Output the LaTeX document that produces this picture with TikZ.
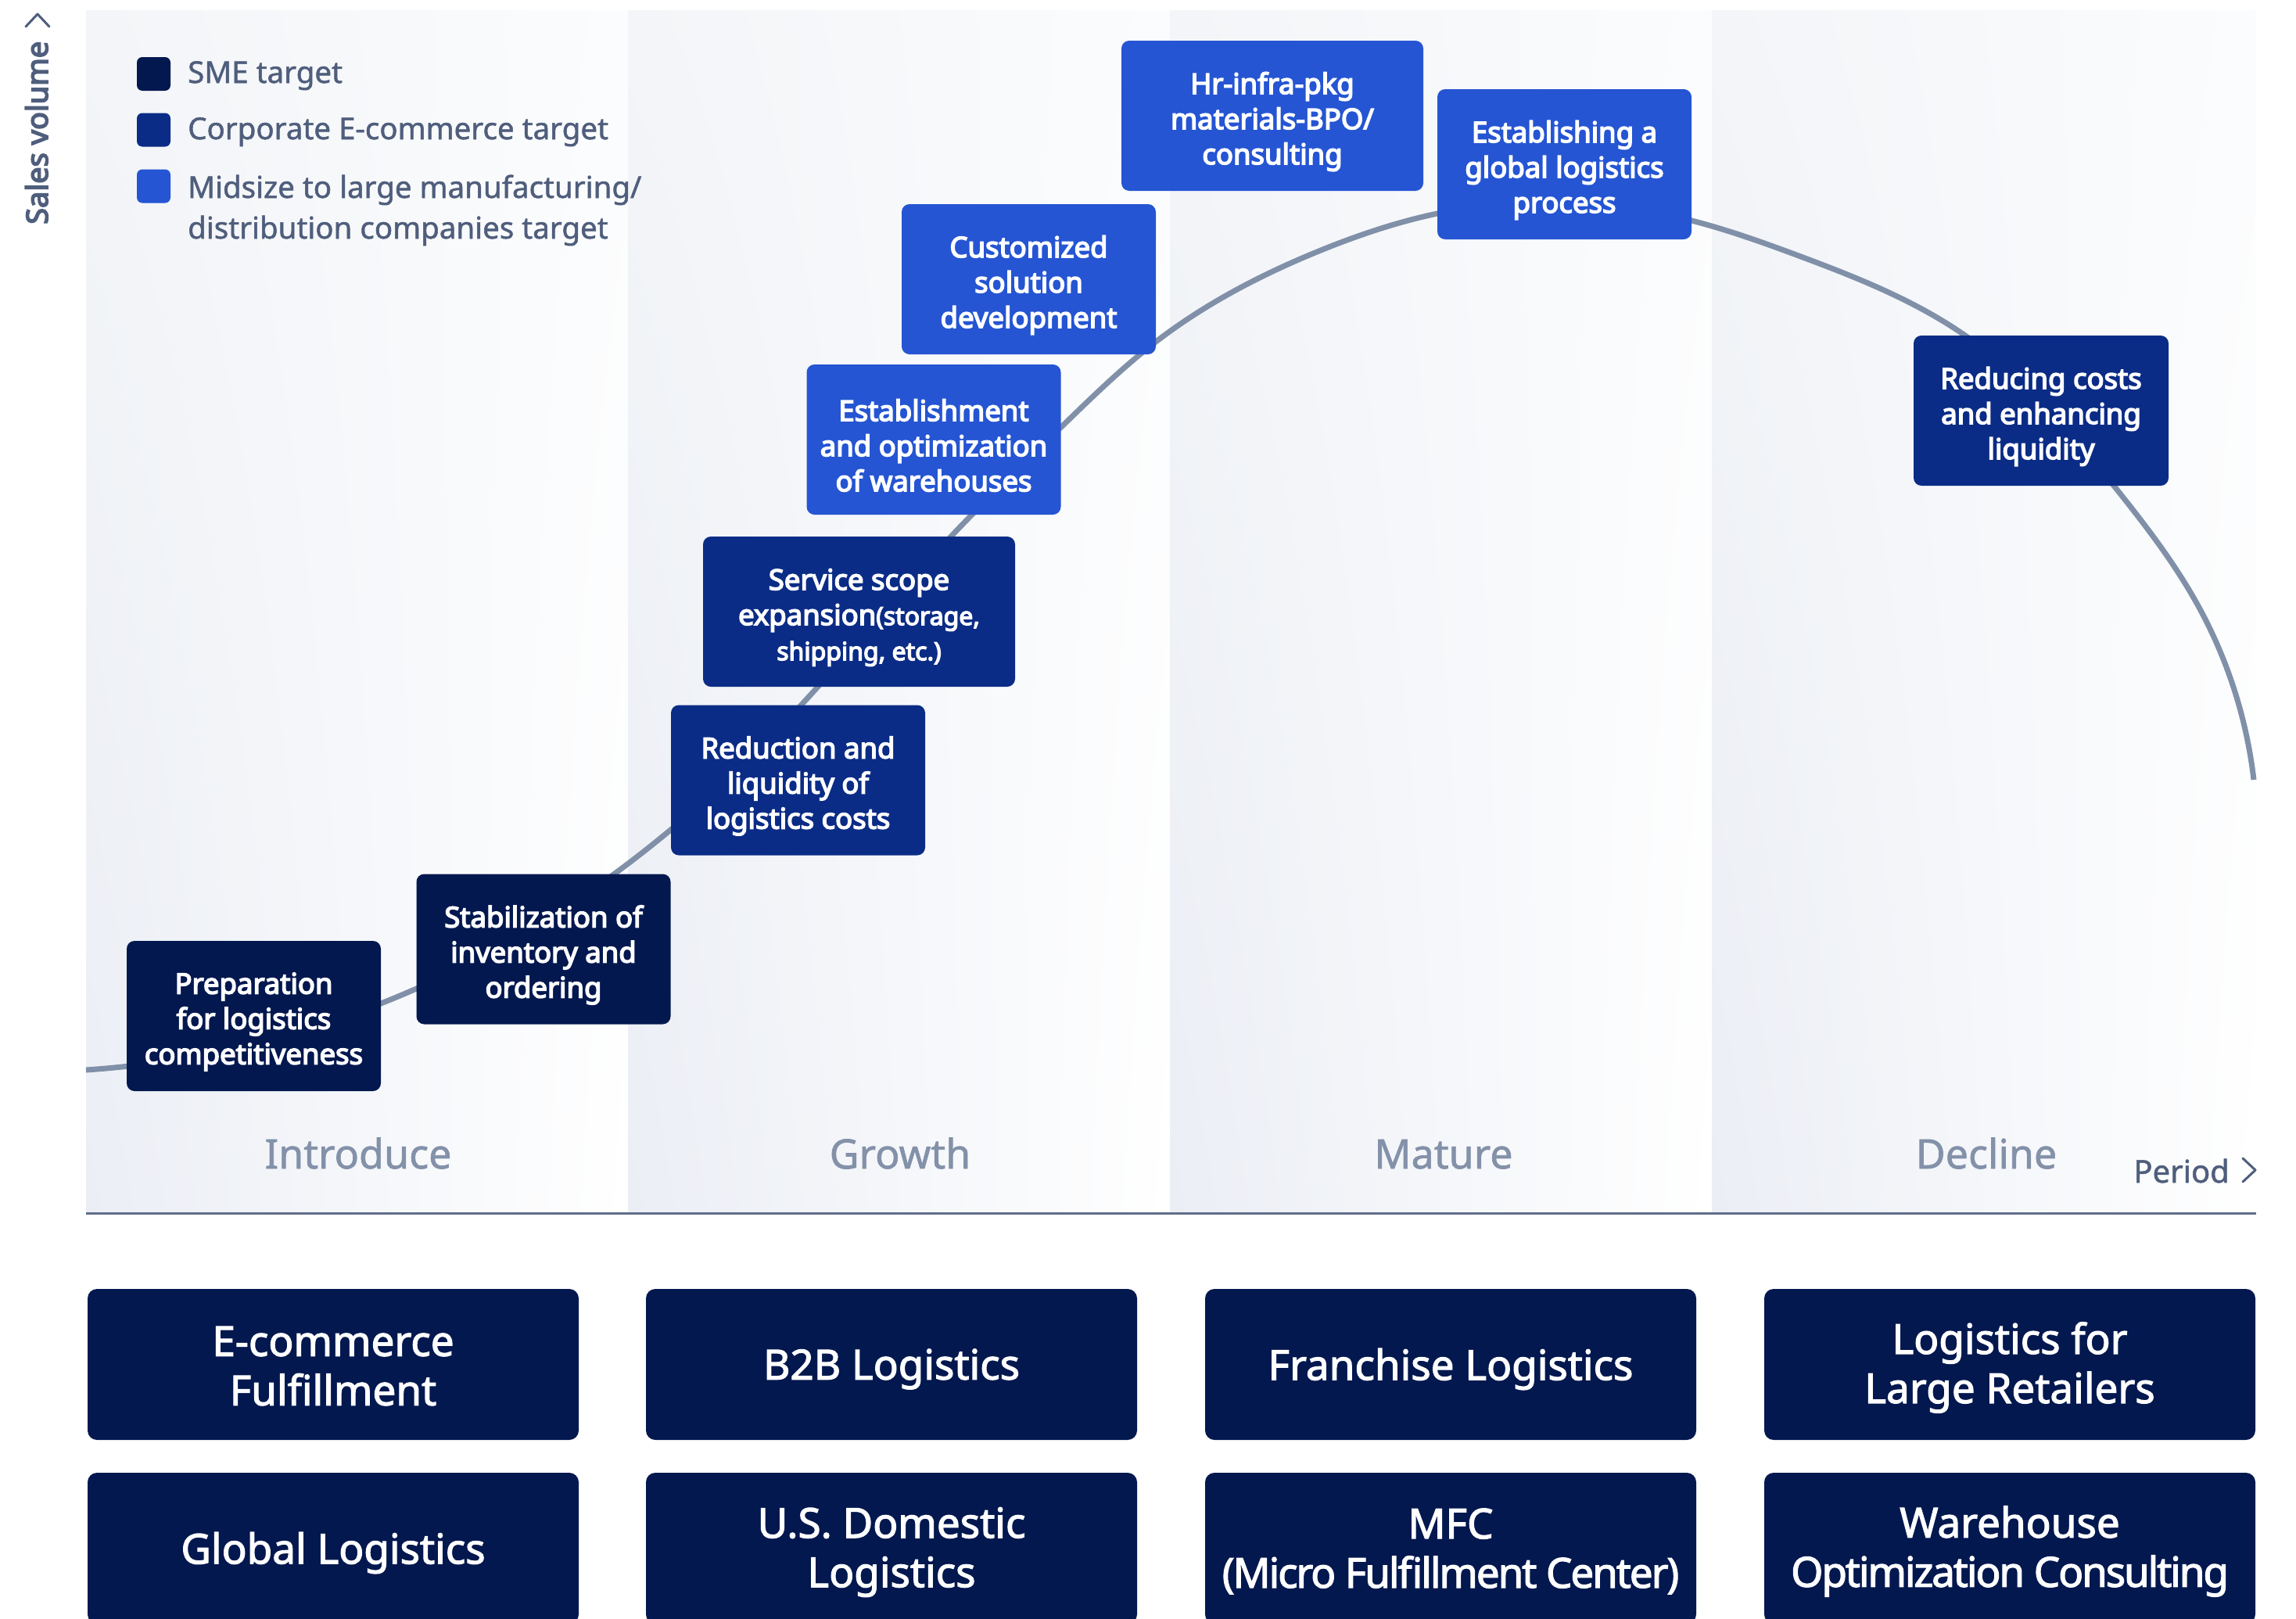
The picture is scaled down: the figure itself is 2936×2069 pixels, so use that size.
\documentclass[tikz,border=0pt]{standalone}
\usepackage{fontspec}
\setmainfont{Noto Sans}
\newfontfamily\sbfont{Noto Sans}[FakeBold=4.2]
\newfontfamily\mdfont{Noto Sans}[FakeBold=1.3]
\newfontfamily\bbfont{Noto Sans}[FakeBold=2.2]
\newfontfamily\bbtight{Noto Sans}[FakeBold=2.2,LetterSpace=-4]
\usetikzlibrary{shadings,hobby}
\definecolor{sme}{HTML}{03184F}
\definecolor{corp}{HTML}{0B2C86}
\definecolor{mid}{HTML}{2555D3}
\definecolor{curvec}{HTML}{8090A8}
\definecolor{legtxt}{HTML}{4F5E7C}
\definecolor{stagetxt}{HTML}{8391A9}
\definecolor{bgA}{HTML}{EBEEF5}
\definecolor{bgB}{HTML}{F3F5F8}
\definecolor{bgC}{HTML}{FBFCFD}
\begin{document}
\begin{tikzpicture}[x=1pt,y=-1pt,
  box/.style={rounded corners=10pt, inner sep=0pt, minimum height=192pt, minimum width=325pt},
  btxt/.style={inner sep=0pt, text=white, align=center, font=\sbfont\fontsize{36.5}{45}\selectfont},
  bigbox/.style={fill=sme, rounded corners=12pt, inner sep=0pt, minimum height=193pt, minimum width=628pt},
  bigtxt/.style={inner sep=0pt, text=white, align=center, font=\bbfont\fontsize{53}{63}\selectfont},
  legsq/.style={rounded corners=7pt, minimum width=43pt, minimum height=43pt, inner sep=0pt},
  legtext/.style={anchor=base west, text=legtxt, inner sep=0pt, align=left, font=\mdfont\fontsize{38.5}{52}\selectfont},
  stage/.style={anchor=base, text=stagetxt, inner sep=0pt, font=\mdfont\fontsize{52}{62}\selectfont},
  colbg/.style={upper left=bgB, upper right=bgC, lower left=bgA, lower right=white},
  curve/.style={draw=curvec, line width=7pt}]
\useasboundingbox (0,0) rectangle (2936,2069);
\fill[white] (0,0) rectangle (2936,2069);
% column backgrounds
\shade[colbg] (110,13) rectangle (803,1551);
\shade[colbg] (803,13) rectangle (1496,1551);
\shade[colbg] (1496,13) rectangle (2189,1551);
\shade[colbg] (2189,13) rectangle (2884,1551);
% axis
\draw[draw=legtxt!90!white, line width=3pt] (110,1551) -- (2885,1551);
% y axis label
\node[rotate=90, anchor=base west, text=legtxt, inner sep=0pt, font=\sbfont\fontsize{38}{46}\selectfont] (yl) at (61,287) {Sales volume};
\draw[legtxt, line width=3pt, line cap=round, line join=round] (33,34) -- (48,18) -- (63,34);
% x axis label
\node[anchor=base east, text=legtxt, inner sep=0pt, font=\mdfont\fontsize{40}{48}\selectfont] (xl) at (2851,1512) {Period};
\draw[legtxt, line width=3pt, line cap=round, line join=round] (2868,1481) -- (2884,1496) -- (2868,1511);
% legend
\node[legsq, fill=sme] (l1) at (196.5,94.5) {};
\node[legsq, fill=corp] (l2) at (196.5,166) {};
\node[legsq, fill=mid] (l3) at (196.5,238) {};
\node[legtext] (t1) at (240,106) {SME target};
\node[legtext] (t2) at (240,178) {Corporate E-commerce target};
\node[legtext] (t3) at (240,253) {Midsize to large manufacturing/};
\node[legtext] (t3b) at (240,305) {distribution companies target};
% stages
\node[stage] (s1) at (458,1494) {Introduce};
\node[stage] (s2) at (1151,1494) {Growth};
\node[stage] (s3) at (1846,1494) {Mature};
\node[stage] (s4) at (2540,1494) {Decline};
% curve
\draw[curve, use Hobby shortcut] (110,1368) .. (487,1283) .. (786,1117) .. (1024,902) .. (1216,686)
 .. (1356,547) .. (1478,437) .. (1689,320) .. (1838,273) .. (2163,282) .. (2300,327) .. (2513,429)
 .. (2703,621) .. (2810,773) .. (2882,997);
% stage boxes
\node[box, fill=sme] (prep) at (324.5,1299) {};
\node[box, fill=sme] (stab) at (695,1213.5) {};
\node[box, fill=corp] (reduc) at (1020.5,997.5) {};
\node[box, fill=corp, minimum width=399pt] (serv) at (1098.5,782) {};
\node[box, fill=mid] (estab) at (1194,562) {};
\node[box, fill=mid] (cust) at (1315.5,357) {};
\node[box, fill=mid, minimum width=386pt] (hr) at (1627,148) {};
\node[box, fill=mid] (glob) at (2000.5,210) {};
\node[box, fill=corp, minimum width=326pt] (redc) at (2610,525) {};
\node[btxt] (prep-t) at ([yshift=-7.5pt]prep.center) {Preparation\\for logistics\\competitiveness};
\node[btxt] (stab-t) at ([yshift=-7.5pt]stab.center) {Stabilization of\\inventory and\\ordering};
\node[btxt] (reduc-t) at ([yshift=-7.5pt]reduc.center) {Reduction and\\liquidity of\\logistics costs};
\node[btxt] (serv-t) at ([yshift=-7.5pt]serv.center) {Service scope\\expansion{\fontsize{32}{45}\selectfont(storage,}\\{\fontsize{32}{45}\selectfont shipping, etc.)}};
\node[btxt] (estab-t) at ([yshift=-7.5pt]estab.center) {Establishment\\and optimization\\of warehouses};
\node[btxt] (cust-t) at ([yshift=-7.5pt]cust.center) {Customized\\solution\\development};
\node[btxt] (hr-t) at ([yshift=-7.5pt]hr.center) {Hr-infra-pkg\\materials-BPO/\\consulting};
\node[btxt] (glob-t) at ([yshift=-7.5pt]glob.center) {Establishing a\\global logistics\\process};
\node[btxt] (redc-t) at ([yshift=-7.5pt]redc.center) {Reducing costs\\and enhancing\\liquidity};
% service boxes
\node[bigbox] (b1) at (426,1744.5) {};
\node[bigbox] (b2) at (1140,1744.5) {};
\node[bigbox] (b3) at (1855,1744.5) {};
\node[bigbox] (b4) at (2570,1744.5) {};
\node[bigbox] (b5) at (426,1979.5) {};
\node[bigbox] (b6) at (1140,1979.5) {};
\node[bigbox] (b7) at (1855,1979.5) {};
\node[bigbox] (b8) at (2570,1979.5) {};
\node[bigtxt] (b1-t) at ([yshift=-2pt]b1.center) {E-commerce\\Fulfillment};
\node[bigtxt] (b2-t) at ([yshift=-6pt]b2.center) {B2B Logistics};
\node[bigtxt] (b3-t) at ([yshift=-6pt]b3.center) {Franchise Logistics};
\node[bigtxt] (b4-t) at ([yshift=-4pt]b4.center) {Logistics for\\Large Retailers};
\node[bigtxt] (b5-t) at ([yshift=-6pt]b5.center) {Global Logistics};
\node[bigtxt] (b6-t) at ([yshift=-5pt]b6.center) {U.S. Domestic\\Logistics};
\node[bigtxt] (b7-t) at ([yshift=-4pt]b7.center) {MFC\\{\bbtight(Micro Fulfillment Center)}};
\node[bigtxt] (b8-t) at ([yshift=-4pt]b8.center) {Warehouse\\{\bbtight Optimization Consulting}};
\end{tikzpicture}
\end{document}
